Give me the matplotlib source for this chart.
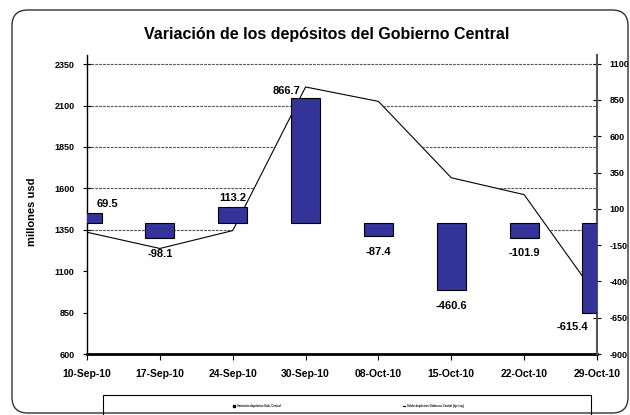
import matplotlib
matplotlib.use("Agg")
import matplotlib.pyplot as plt
from matplotlib.patches import FancyBboxPatch, Rectangle, Patch
from matplotlib.lines import Line2D
import numpy as np

plt.rcParams['font.family'] = ['Liberation Sans', 'DejaVu Sans']
plt.rcParams['font.weight'] = 'bold'
plt.rcParams['axes.unicode_minus'] = False

# datos
fechas = ['10-Sep-10', '17-Sep-10', '24-Sep-10', '30-Sep-10',
          '08-Oct-10', '15-Oct-10', '22-Oct-10', '29-Oct-10']
variacion = [69.5, -98.1, 113.2, 866.7, -87.4, -460.6, -101.9, -615.4]
saldo = [1335, 1237, 1345, 2212, 2125, 1664, 1562, 947]
ticks_izq = [600, 850, 1100, 1350, 1600, 1850, 2100, 2350]
ticks_der = [-900, -650, -400, -150, 100, 350, 600, 850, 1100]

# desplazamiento de las etiquetas (pixeles)
offs = [(20, 9.5), (0, -16), (0, 9), (-19, 7), (0, -15.5), (0, -16), (0, -15), (-25, -14)]

fig = plt.figure(figsize=(6.3, 4.15), dpi=100)

# marco redondeado
borde = FancyBboxPatch((12/630, 2/415), (628-12)/630, (405-2)/415,
                       boxstyle="round,pad=0,rounding_size=0.025",
                       transform=fig.transFigure, fill=False,
                       edgecolor='#333333', lw=1.0, mutation_aspect=630/415)
fig.patches.append(borde)

ax = fig.add_axes([87/630, 61/415, (597-87)/630, (354-55)/415])
x = np.arange(len(fechas))

# serie de saldo con area blanca que tapa la grilla
ax.set_axisbelow(True)
ax.yaxis.grid(True, linestyle=(0, (2.5, 1)), color='#555555', lw=0.8)
ax.fill_between(x, saldo, 600, color='white', zorder=1)
ax.plot(x, saldo, color='black', lw=0.8, zorder=2)
ax.set_xlim(0, len(fechas) - 1)
ax.set_ylim(600, 2405)
ax.set_yticks(ticks_izq)
ax.set_xticks(x)
ax.set_xticklabels(fechas, fontsize=7.5, fontweight='bold')
ax.tick_params(axis='y', direction='inout', length=6, labelsize=6.5, pad=6)
ax.tick_params(axis='x', direction='out', length=4, pad=7)
for t in ax.get_yticklabels():
    t.set_fontweight('bold')
ax.spines['top'].set_visible(False)
ax.spines['right'].set_visible(False)
ax.spines['left'].set_linewidth(1.0)
ax.spines['bottom'].set_linewidth(2.0)

# variaciones en eje secundario
ax2 = ax.twinx()
barras = ax2.bar(x, variacion, width=0.4, color='#333399', edgecolor='black', lw=0.8, zorder=3)
ax2.set_ylim(-900, 1160)
ax2.set_yticks(ticks_der)
ax2.tick_params(axis='y', direction='inout', length=6, labelsize=6.5, pad=6)
for t in ax2.get_yticklabels():
    t.set_fontweight('bold')
for s in ['top', 'left', 'bottom']:
    ax2.spines[s].set_visible(False)
ax2.spines['right'].set_color('#555555')
ax2.spines['right'].set_linewidth(1.5)

for xi, v, (dx, dy) in zip(x, variacion, offs):
    ax2.annotate(f'{v:.1f}', (xi, v), xytext=(dx, dy), textcoords='offset pixels',
                 ha='center', va='center', fontsize=8, fontweight='bold',
                 annotation_clip=False)

fig.text(327/630, 1 - 34/415, 'Variación de los depósitos del Gobierno Central',
         ha='center', va='center', fontsize=11.5, fontweight='bold')
fig.text(32/630, 1 - 212/415, 'millones usd', rotation=90, ha='center', va='center',
         fontsize=8, fontweight='bold')

# leyenda
fig.patches.append(Rectangle((103/630, -5/415), (591-103)/630, (20+5)/415,
                             transform=fig.transFigure, fill=False,
                             edgecolor='black', lw=0.8))
fig.legend(handles=[Patch(facecolor='#333399', edgecolor='black')],
           labels=['Variación depósitos Gob. Central'], loc='center left',
           bbox_to_anchor=(230/630, 9/415), frameon=False, fontsize=2,
           handlelength=0.8, handleheight=0.8)
fig.legend(handles=[Line2D([0], [0], color='black', lw=0.8)],
           labels=['Saldo depósitos Gobierno Central (eje izq.)'], loc='center left',
           bbox_to_anchor=(400/630, 9/415), frameon=False, fontsize=2,
           handlelength=0.8)

fig.savefig('out.png', dpi=100)
